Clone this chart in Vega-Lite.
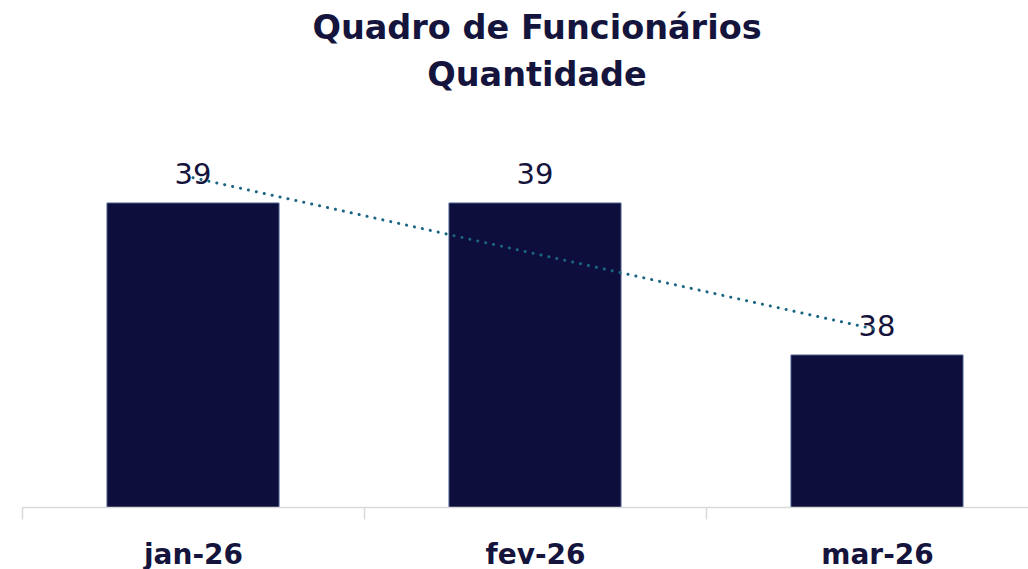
{
  "$schema": "https://vega.github.io/schema/vega-lite/v6.json",
  "autosize": "none",
  "width": 1006,
  "height": 380,
  "padding": {"left": 22, "top": 127, "right": 0, "bottom": 62},
  "background": "white",
  "config": {"view": {"stroke": null}},
  "title": {
    "text": ["Quadro de Funcionários", "Quantidade"],
    "font": "DejaVu Sans",
    "fontWeight": "bold",
    "fontSize": 33.5,
    "lineHeight": 47,
    "color": "#14143c",
    "anchor": "middle",
    "dx": 12,
    "offset": 34
  },
  "data": {
    "values": [
      {"month": "jan-26", "quantidade": 39, "trend": 39.1667},
      {"month": "fev-26", "quantidade": 39, "trend": 38.6667},
      {"month": "mar-26", "quantidade": 38, "trend": 38.1667}
    ]
  },
  "encoding": {
    "x": {
      "field": "month",
      "type": "nominal",
      "sort": null,
      "scale": {"paddingInner": 0.497, "paddingOuter": 0.2193, "align": 0.5667},
      "axis": {
        "title": null,
        "labelAngle": 0,
        "labelFont": "DejaVu Sans",
        "labelFontWeight": "bold",
        "labelFontSize": 28,
        "labelColor": "#14143c",
        "labelPadding": 22,
        "domainColor": "#d9d9d9",
        "domainWidth": 1.5,
        "tickColor": "#d9d9d9",
        "tickWidth": 1.5,
        "tickSize": 12,
        "tickOffset": -171,
        "labelOffset": 171,
        "zindex": 1
      }
    }
  },
  "layer": [
    {
      "mark": {"type": "bar", "color": "#0d0e3b", "stroke": "#4a5d8f", "strokeWidth": 1, "clip": true},
      "encoding": {
        "y": {"field": "quantidade", "type": "quantitative", "scale": {"domain": [37, 39.5], "zero": false, "nice": false}, "axis": null}
      }
    },
    {
      "mark": {"type": "text", "baseline": "alphabetic", "dy": -19, "font": "DejaVu Sans", "fontSize": 29, "color": "#14143c"},
      "encoding": {
        "y": {"field": "quantidade", "type": "quantitative"},
        "text": {"field": "quantidade", "type": "quantitative"}
      }
    },
    {
      "mark": {"type": "line", "color": "#1b6583", "strokeWidth": 3, "strokeDash": [0.1, 8], "strokeCap": "round"},
      "encoding": {
        "y": {"field": "trend", "type": "quantitative"}
      }
    }
  ]
}
